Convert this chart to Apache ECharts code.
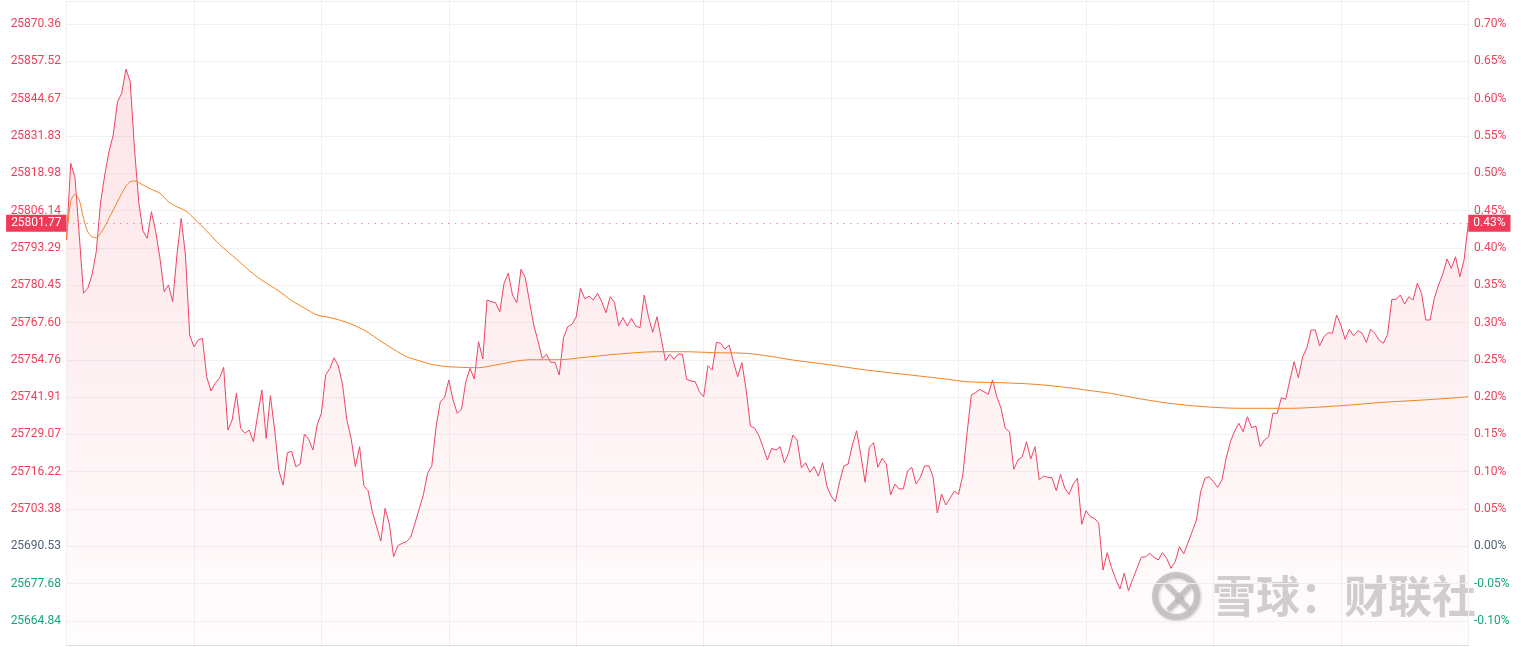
<!DOCTYPE html>
<html><head><meta charset="utf-8">
<script src="https://cdn.jsdelivr.net/npm/echarts@6/dist/echarts.min.js"></script>
<style>html,body{margin:0;padding:0;background:#fff}#c{width:1521px;height:647px}</style>
</head><body><div id="c"></div>
<script>
// previous close (0.00% line)
const prevClose = 25690.53;

// morning session 09:30 - 12:00, one value per minute
const priceAM = [
25796.00,25822.40,25817.45,25797.72,25777.65,25779.37,25783.95,25791.97,25808.63,25818.37,
25826.40,25832.15,25843.61,25846.50,25854.87,25850.49,25827.57,25809.18,25799.10,25796.58,
25805.74,25798.86,25789.70,25778.20,25780.51,25774.76,25790.83,25803.47,25790.83,25763.29,
25759.27,25761.57,25762.16,25748.94,25744.02,25746.67,25748.39,25752.18,25730.59,25734.03,
25743.22,25731.17,25729.45,25730.59,25726.56,25735.75,25744.36,25727.73,25742.40,25730.59,
25716.58,25711.65,25722.77,25723.26,25717.96,25718.88,25729.21,25727.39,25723.70,25732.31,
25736.34,25749.52,25751.83,25755.48,25752.62,25746.08,25734.03,25727.73,25717.96,25724.84,
25711.41,25709.69,25702.46,25697.30,25692.37,25703.63,25698.23,25686.97,25690.76,25691.58,
25692.13,25693.58,25698.29,25703.32,25708.21,25715.68,25718.30,25731.72,25740.33,25741.71,
25747.80,25740.92,25736.34,25737.82,25747.22,25751.83,25748.15,25760.99,25755.03,25775.34,
25774.76,25774.41,25771.31,25781.09,25784.53,25777.06,25774.41,25785.91,25783.02,25774.76,
25766.74,25761.23,25755.27,25756.65,25753.90,25753.90,25749.52,25762.36,25766.15,25766.98,
25769.59,25779.37,25775.79,25776.72,25775.34,25777.65,25774.76,25770.97,25776.48,25774.55,
25766.50,25769.25,25766.39,25769.04,25766.39,25765.81,25777.06,25769.59,25764.22,25769.59,
25762.16,25754.45,25756.75,25754.93,25756.75,25756.65,25748.04,25747.46,25747.22,25743.77,
25742.05
];
// afternoon session 13:01 - 16:00
const pricePM = [
25752.72,25751.24,25760.78,25760.44,25758.47,25759.85,25754.10,25748.94,25753.76,
25744.36,25731.97,25731.17,25728.70,25724.56,25720.26,25724.29,25723.70,25724.84,25719.33,
25722.77,25728.87,25727.15,25717.61,25719.33,25716.03,25717.96,25714.75,25719.33,25711.31,
25707.87,25705.91,25712.79,25718.20,25718.88,25725.42,25730.35,25721.98,25712.58,25724.63,
25726.22,25717.75,25720.85,25718.88,25708.21,25712.00,25710.28,25710.38,25716.58,25717.75,
25712.00,25714.31,25718.20,25718.30,25714.51,25702.02,25708.56,25704.77,25707.08,25709.59,
25708.45,25715.10,25729.45,25742.64,25743.43,25744.60,25743.77,25742.88,25747.80,25742.05,
25738.06,25731.17,25730.00,25717.06,25720.26,25721.40,25726.56,25720.61,25724.84,25713.38,
25714.75,25714.31,25714.17,25709.69,25715.34,25710.52,25708.45,25712.00,25713.96,25698.13,
25702.81,25700.74,25700.19,25698.47,25682.39,25688.35,25683.26,25679.29,25675.85,25681.26,
25675.27,25679.19,25682.98,25686.76,25686.97,25688.14,25686.76,25685.84,25688.35,25686.42,
25682.98,25685.25,25690.41,25687.90,25691.79,25695.58,25699.61,25709.35,25713.96,25714.51,
25712.79,25710.86,25713.38,25720.85,25726.56,25730.25,25732.89,25730.00,25735.17,25731.38,
25731.97,25724.84,25727.15,25728.28,25736.34,25736.34,25741.71,25741.16,25747.80,25754.10,
25748.59,25755.82,25758.92,25765.02,25765.02,25759.51,25762.71,25764.09,25763.88,25770.18,
25766.74,25761.81,25765.26,25763.05,25764.77,25763.88,25760.78,25765.26,25763.88,25761.57,
25760.44,25763.54,25775.58,25775.58,25777.06,25773.97,25776.48,25775.34,25781.09,25777.65,
25768.46,25768.46,25775.93,25780.51,25784.29,25789.46,25786.26,25790.25,25783.36,25789.11,
25801.77
];

// average-price line, read at [minute index, value]
const avgPoints = [
[0,25796.58],[1,25809.18],[2,25811.73],[3,25809.77],[4,25803.47],[5,25798.86],[6,25797.13],
[7,25796.79],[8,25798.31],[9,25800.58],[10,25803.47],[12,25809.18],[14,25814.59],[15,25816.07],
[16,25816.31],[18,25814.93],[20,25813.45],[22,25812.08],[24,25809.18],[26,25807.46],[28,25806.09],
[30,25803.47],[33,25799.10],[36,25794.52],[40,25789.46],[44,25784.29],[47,25781.20],[50,25778.44],
[53,25775.17],[56,25772.59],[59,25770.18],[62,25769.32],[66,25767.60],[70,25765.02],[73,25762.16],
[76,25759.27],[80,25755.89],[83,25754.45],[86,25753.14],[90,25752.38],[97,25752.04],[101,25752.97],
[109,25754.79],[116,25754.79],[122,25755.62],[130,25756.75],[139,25757.55],[145,25757.55],
[153,25757.20],[160,25756.99],[166,25755.89],[171,25754.69],[180,25752.97],[187,25751.49],
[195,25750.11],[207,25748.15],[212,25747.22],[220,25746.88],[228,25746.32],[236,25745.15],
[240,25744.36],[246,25743.16],[253,25741.26],[261,25739.54],[270,25738.40],[277,25738.06],
[288,25738.06],[300,25738.96],[310,25740.12],[322,25741.16],[330,25742.05]
];

// time categories
function minuteLabels(h, m, count) {
  const out = [];
  for (let i = 0; i < count; i++) {
    const t = h * 60 + m + i;
    out.push(String(Math.floor(t / 60)).padStart(2, '0') + ':' + String(t % 60).padStart(2, '0'));
  }
  return out;
}
const timesAM = minuteLabels(9, 30, 151);
const timesPM = minuteLabels(13, 1, 180);
const categories = timesAM.concat(timesPM);
const price = priceAM.concat(pricePM);
const last = price[price.length - 1];

const RED = '#f03e5a', GRAY = '#52627a', GREEN = '#14a67f';
const step = prevClose * 0.0005;

function colorFor(diff) {
  if (Math.abs(diff) < 1e-6) return GRAY;
  return diff > 0 ? RED : GREEN;
}

const chart = echarts.init(document.getElementById('c'));
chart.setOption({
  animation: false,
  backgroundColor: '#fff',
  grid: { left: 66.5, right: 52.7, top: -13.31, bottom: -11.31, containLabel: false, outerBoundsMode: 'none' },
  xAxis: [{
    type: 'category', data: categories, boundaryGap: false,
    offset: -13.31,
    axisLine: { show: true, onZero: false, lineStyle: { color: '#dedede', width: 1 } },
    axisTick: { show: false }, axisLabel: { show: false },
    splitLine: { show: true, interval: function (i) { return i % 30 === 0; }, lineStyle: { color: '#f1f1f3', width: 1 } }
  }, {
    type: 'category', data: categories, boundaryGap: false, position: 'top',
    offset: -14.31,
    axisLine: { show: true, onZero: false, lineStyle: { color: '#efefef', width: 1 } },
    axisTick: { show: false }, axisLabel: { show: false }, splitLine: { show: false }
  }],
  yAxis: [{
    type: 'value', position: 'left',
    min: prevClose - 3 * step, max: prevClose + 15 * step, interval: step,
    axisLine: { show: false }, axisTick: { show: false },
    splitLine: { show: true, lineStyle: { color: '#f1f1f3', width: 1 } },
    axisLabel: {
      margin: 5.5, fontSize: 12, fontFamily: 'Roboto',
      formatter: function (v) { return v.toFixed(2); },
      color: function (v) { return colorFor(Math.abs(v - prevClose) < 0.005 ? 0 : v - prevClose); }
    }
  }, {
    type: 'value', position: 'right',
    min: -0.15, max: 0.75, interval: 0.05,
    axisLine: { show: false }, axisTick: { show: false }, splitLine: { show: false },
    axisLabel: {
      margin: 5.7, fontSize: 12, fontFamily: 'Roboto',
      formatter: function (v) { return v.toFixed(2) + '%'; },
      color: function (v) { return colorFor(Math.abs(v) < 1e-6 ? 0 : v); }
    }
  }],
  series: [{
    name: 'price', type: 'line', data: price, showSymbol: false, z: 3,
    lineStyle: { color: '#ee4563', width: 1 },
    areaStyle: {
      origin: 'start',
      color: new echarts.graphic.LinearGradient(0, 0, 0, 1, [
        { offset: 0, color: 'rgba(240,62,90,0.20)' },
        { offset: 1, color: 'rgba(240,62,90,0.015)' }
      ])
    },
    markLine: {
      silent: true, symbol: 'none', animation: false,
      lineStyle: { color: '#e8899b', type: [1, 5.7], width: 1 },
      label: {
        show: true, color: '#fff', backgroundColor: '#f03a58', padding: [3, 5, 2, 5],
        fontSize: 12, fontFamily: 'Roboto', distance: 0
      },
      data: [
        { yAxis: last, label: { position: 'start', formatter: function () { return last.toFixed(2); } } },
        { yAxis: last, label: { position: 'end', formatter: function () { return ((last / prevClose - 1) * 100).toFixed(2) + '%'; } } }
      ]
    }
  }, {
    name: 'avg', type: 'line', data: avgPoints, showSymbol: false, smooth: 0.3, z: 4,
    lineStyle: { color: '#f5821f', width: 1 }
  }],
  graphic: [{
    type: 'group', z: 100, silent: true,
    children: [{
      type: 'circle', shape: { cx: 1176, cy: 596, r: 21 },
      style: { fill: 'none', stroke: 'rgba(195,195,195,0.85)', lineWidth: 6, shadowColor: 'rgba(0,0,0,0.25)', shadowBlur: 3, shadowOffsetX: 1, shadowOffsetY: 1 }
    }, {
      type: 'polyline', shape: { points: [[1166, 584], [1180, 598], [1168, 610]] },
      style: { fill: 'none', stroke: 'rgba(195,195,195,0.85)', lineWidth: 5, shadowColor: 'rgba(0,0,0,0.25)', shadowBlur: 3, shadowOffsetX: 1, shadowOffsetY: 1 }
    }, {
      type: 'polyline', shape: { points: [[1190, 586], [1178, 598], [1188, 608]] },
      style: { fill: 'none', stroke: 'rgba(195,195,195,0.85)', lineWidth: 5, shadowColor: 'rgba(0,0,0,0.25)', shadowBlur: 3, shadowOffsetX: 1, shadowOffsetY: 1 }
    }, {
      type: 'text', x: 1212, y: 574,
      style: {
        text: '雪球：财联社', fill: 'rgba(200,200,200,0.85)',
        font: 'bold 44px "Noto Sans CJK SC"',
        shadowColor: 'rgba(0,0,0,0.3)', shadowBlur: 3, shadowOffsetX: 1, shadowOffsetY: 2
      }
    }]
  }]
});
</script>
</body></html>
